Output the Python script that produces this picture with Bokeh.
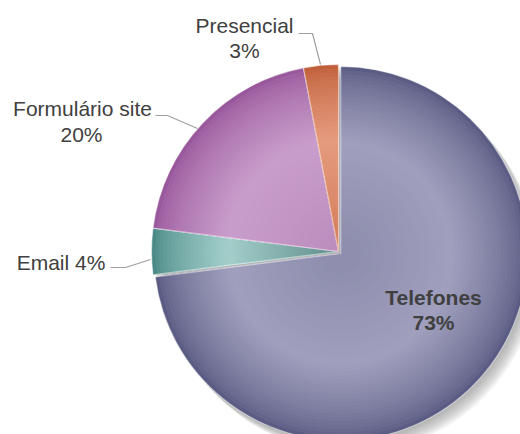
import numpy as np
from bokeh.plotting import figure
from bokeh.models import Range1d
from bokeh.embed import file_html
from bokeh.resources import INLINE
from bokeh.core.properties import value

# ---- data ----
categories = ["Telefones", "Email", "Formulário site", "Presencial"]
shares = [73, 4, 20, 3]

# ---- styling ----
# (rim, light, inner) colours per slice to imitate the shaded Excel look
slice_colors = [
    ("#5b5c84", "#a09fbd", "#8b8bab"),
    ("#4a8986", "#a3ceca", "#5f8c8a"),
    ("#9a589c", "#c99dcb", "#bb8cbd"),
    ("#c05f3a", "#e59b7e", "#d27a58"),
]
FONT = value("Liberation Sans")
TXT = "#404040"

W, H = 520, 434
p = figure(width=W, height=H, x_range=Range1d(0, 520), y_range=Range1d(0, 434),
           output_backend="svg", toolbar_location=None, min_border=0)
p.axis.visible = False
p.grid.visible = False
p.outline_line_color = None
p.background_fill_color = "white"
p.border_fill_color = "white"


def sy(y):
    return 434 - y


def hex2rgb(h):
    h = h.lstrip("#")
    return [int(h[i:i + 2], 16) for i in (0, 2, 4)]


def mix(c1, c2, t):
    a, b = hex2rgb(c1), hex2rgb(c2)
    return "#%02x%02x%02x" % tuple(int(round(a[k] + (b[k] - a[k]) * t)) for k in range(3))


cx, cy, R = 338, sy(251), 187

# soft shadow to the lower right
for d in range(2, 14, 1):
    p.circle(x=[cx + d], y=[cy - d * 1.1], radius=R, fill_color="#7a7a7a",
             fill_alpha=0.07, line_color=None)

total = float(sum(shares))
cum = np.concatenate([[0.0], np.cumsum(shares)])
bounds = np.deg2rad(90 - 360.0 * cum / total)  # clockwise from 12 o'clock

for i, cat in enumerate(categories):
    start, end = float(bounds[i + 1]), float(bounds[i])
    mid = (start + end) / 2
    off = 3 if i == 0 else 0
    x0 = cx + off * np.cos(mid)
    y0 = cy + off * np.sin(mid)
    rim, light, inner = slice_colors[i]
    n = 45
    for j in range(n):
        f = 1 - j / n * 0.92
        if f >= 0.6:
            col = mix(rim, light, ((1 - f) / 0.4) ** 0.7)
        else:
            col = mix(light, inner, (0.6 - f) / 0.6)
        p.wedge(x=[x0], y=[y0], radius=R * f, start_angle=start, end_angle=end,
                fill_color=col, line_color=None)
    p.wedge(x=[x0], y=[y0], radius=R, start_angle=start, end_angle=end,
            fill_color=None, line_color="white", line_alpha=0.5, line_width=1.2)

# leader lines
leader_lines = [
    ([298, 312, 320], [33, 33, 64]),      # Presencial
    ([155, 167, 197], [115, 115, 128]),   # Formulário site
    ([110, 125, 150], [267, 267, 259]),   # Email
]
for xs, ys in leader_lines:
    p.line(x=xs, y=[sy(v) for v in ys], line_color="#a0a0a0", line_width=1.2)

# labels
pct = [f"{s}%" for s in shares]
reg_x = [244, 244, 82, 81, 60.5]
reg_y = [sy(24.5), sy(49.5), sy(108), sy(134), sy(261.5)]
reg_t = [categories[3], pct[3], categories[2], pct[2], f"{categories[1]} {pct[1]}"]
p.text(x=reg_x, y=reg_y, text=reg_t, text_font=FONT, text_font_size="21px",
       text_color=TXT, text_align="center", text_baseline="middle")

p.text(x=[433, 433], y=[sy(297), sy(322)], text=[categories[0], pct[0]],
       text_font=FONT, text_font_size="21px", text_font_style="bold",
       text_color=TXT, text_align="center", text_baseline="middle")

open("out.html", "w").write(file_html(p, INLINE))
